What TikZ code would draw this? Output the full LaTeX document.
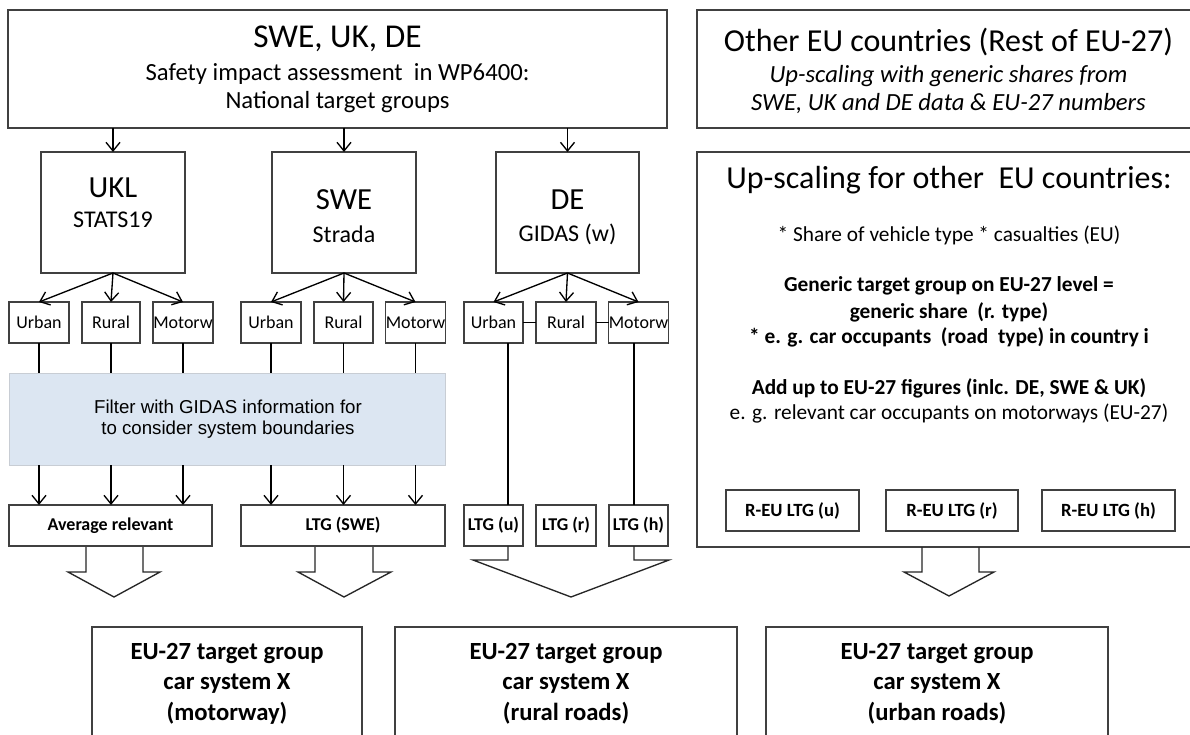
\documentclass[tikz,border=0pt]{standalone}
\usepackage{fontspec}
\setmainfont{Carlito}
\newfontfamily\arialf{Liberation Sans}
\usetikzlibrary{arrows.meta}
\definecolor{bord}{HTML}{404040}
\definecolor{filt}{HTML}{DCE6F2}
\begin{document}
\begin{tikzpicture}[x=0.75pt,y=-0.75pt,
  box/.style={draw=bord, line width=0.8pt, inner sep=0pt, outer sep=0pt},
  rect/.style n args={4}{box, minimum width={(#3-#1)*0.75pt}, minimum height={(#4-#2)*0.75pt},
    at={({(#1+#3)/2},{(#2+#4)/2})}},
  arr/.style={-{Straight Barb[length=6.5pt,width=10.5pt]}, line width=1pt},
  ln/.style={line width=1pt},
  hol/.style={line width=1pt, draw=black!85},
  txt/.style={inner sep=0pt, align=center}]
\clip (0,0) rectangle (1190,735);
\fill[white] (0,0) rectangle (1190,735);

% ---- top boxes
\node[rect={8}{10}{667}{128}] (top) {};
\node[txt, font=\fontsize{25}{30}\selectfont] (t1) at (337.5,39) {SWE, UK, DE};
\node[txt, font=\fontsize{18.5}{22}\selectfont] (t2) at (337.5,74) {Safety impact assessment\ \ in WP6400:};
\node[txt, font=\fontsize{18.5}{22}\selectfont] (t3) at (337.5,102) {National target groups};

\node[rect={697}{10}{1205}{128}] (oth) {};
\node[txt, font=\fontsize{24}{28}\selectfont] (o1) at (948.5,42) {Other EU countries (Rest of EU-27)};
\node[txt, font=\fontsize{18.5}{22}\selectfont\itshape] (o2) at (948.5,76) {Up-scaling with generic shares from};
\node[txt, font=\fontsize{18.5}{22}\selectfont\itshape] (o3) at (948.5,104) {SWE, UK and DE data \& EU-27 numbers};

% ---- right big box
\node[rect={697}{152}{1205}{547}] (up) {};
\node[txt, font=\fontsize{24}{28}\selectfont] (u1t) at (949,180) {Up-scaling for other\ \ EU countries:};
\node[txt, font=\fontsize{16}{19}\selectfont] (u2t) at (949,235) {* Share of vehicle type * casualties (EU)};
\node[txt, font=\fontsize{16}{19}\selectfont\bfseries] (u3t) at (949,286) {Generic target group on EU-27 level =};
\node[txt, font=\fontsize{16}{19}\selectfont\bfseries] (u4t) at (949,312) {generic share\ \ (r. type)};
\node[txt, font=\fontsize{16}{19}\selectfont\bfseries] (u5t) at (949,337) {* e. g. car occupants\ \ (road\ \ type) in country i};
\node[txt, font=\fontsize{16}{19}\selectfont\bfseries] (u6t) at (949,388) {Add up to EU-27 figures (inlc. DE, SWE \& UK)};
\node[txt, font=\fontsize{16}{19}\selectfont] (u7t) at (949,414) {e. g. relevant car occupants on motorways (EU-27)};

\tikzset{rb/.style={font=\fontsize{14}{17}\selectfont\bfseries}}
\node[rect={726}{490}{859}{531}, rb] (reu) {R-EU LTG (u)};
\node[rect={886}{490}{1018}{531}, rb] (rer) {R-EU LTG (r)};
\node[rect={1042}{490}{1175}{531}, rb] (reh) {R-EU LTG (h)};

% ---- national boxes
\node[rect={41}{152}{185}{273}] (ukl) {};
\node[txt, font=\fontsize{23}{27}\selectfont] (ukl1) at (113,188) {UKL};
\node[txt, font=\fontsize{18}{22}\selectfont] (ukl2) at (113,220) {STATS19};
\node[rect={272}{152}{416}{273}] (swe) {};
\node[txt, font=\fontsize{23}{27}\selectfont] (swe1) at (344,200) {SWE};
\node[txt, font=\fontsize{18}{22}\selectfont] (swe2) at (344,234) {Strada};
\node[rect={496}{152}{639}{273}] (de) {};
\node[txt, font=\fontsize{23}{27}\selectfont] (de1) at (567.5,200) {DE};
\node[txt, font=\fontsize{18}{22}\selectfont] (de2) at (567.5,234) {GIDAS (w)};

\draw[arr] (top.south -| ukl.north) -- (ukl.north);
\draw[arr] (top.south -| swe.north) -- (swe.north);
\draw[arr] (top.south -| de.north) -- (de.north);

% ---- road type boxes
\tikzset{sb/.style={font=\fontsize{13.5}{16}\selectfont}}
\node[rect={9}{302}{69}{343}, sb] (ku) {Urban};
\node[rect={82}{302}{140}{343}, sb] (kr) {Rural};
\node[rect={153}{302}{213}{343}, sb] (km) {Motorw};
\node[rect={241}{302}{301}{343}, sb] (su) {Urban};
\node[rect={314}{302}{373}{343}, sb] (sr) {Rural};
\node[rect={386}{302}{445}{343}, sb] (sm) {Motorw};
\node[rect={464}{302}{523}{343}, sb] (du) {Urban};
\node[rect={536}{302}{596}{343}, sb] (dr) {Rural};
\node[rect={609}{302}{668}{343}, sb] (dm) {Motorw};

\foreach \s/\t in {ukl/ku, ukl/kr, ukl/km, swe/su, swe/sr, swe/sm, de/du, de/dr, de/dm}
  \draw[arr] (\s.south) -- (\t.north);
\draw[ln] (du.east) -- (dr.west);
\draw[ln] (dr.east) -- (dm.west);

% ---- filter box
\node[rect={9}{373}{445}{465}, fill=filt, draw=filt!80!black!70, line width=0.4pt] (filter) {};
\node[txt, font=\arialf\fontsize{14}{17}\selectfont] (f1) at (228,407) {Filter with GIDAS information for};
\node[txt, font=\arialf\fontsize{14}{17}\selectfont] (f2) at (228,430) {to consider system boundaries};

% ---- LTG row
\tikzset{lb/.style={font=\fontsize{13.5}{16}\selectfont\bfseries}}
\node[rect={9}{505}{212}{546}, lb] (avg) {Average relevant};
\node[rect={241}{505}{445}{546}, lb] (ltgs) {LTG (SWE)};
\node[rect={464}{505}{523}{546}, lb] (lu) {LTG (u)};
\node[rect={536}{505}{596}{546}, lb] (lr) {LTG (r)};
\node[rect={609}{505}{668}{546}, lb] (lh) {LTG (h)};

\foreach \b/\o in {ku/avg, kr/avg, km/avg, su/ltgs, sr/ltgs, sm/ltgs}{
  \draw[ln] (\b.south) -- (\b.south |- filter.north);
  \draw[arr] (\b.south |- filter.south) -- (\b.south |- \o.north);
}
\coordinate (dux) at (508,0);
\coordinate (dmx) at (634,0);
\draw[ln] (du.south -| dux) -- (lu.north -| dux);
\draw[ln] (dm.south -| dmx) -- (lh.north -| dmx);

% ---- hollow block arrows
\draw[hol] (86,547) -- (86,572) -- (68,572) -- (114,597) -- (160,572) -- (143,572) -- (143,547);
\draw[hol] (315,547) -- (315,572) -- (298,572) -- (344,597) -- (391,572) -- (373,572) -- (373,547);
\draw[hol] (lu.south -| dux) -- (508,560) -- (473,560) -- (571,597) -- (669,560) -- (634,560) -- (lh.south -| dmx);
\draw[hol] (922,547) -- (922,572) -- (904,572) -- (949,596) -- (994,572) -- (979,572) -- (979,547);

% ---- bottom boxes
\node[rect={92}{627}{362}{745}] (b1) {};
\node[rect={395}{627}{737}{745}] (b2) {};
\node[rect={766}{627}{1108}{745}] (b3) {};
\tikzset{bt/.style={txt, font=\fontsize{18.5}{22}\selectfont\bfseries}}
\node[bt] (b1a) at (227,653) {EU-27 target group};
\node[bt] (b1b) at (227,683) {car system X};
\node[bt] (b1c) at (227,713) {(motorway)};
\node[bt] (b2a) at (566,653) {EU-27 target group};
\node[bt] (b2b) at (566,683) {car system X};
\node[bt] (b2c) at (566,713) {(rural roads)};
\node[bt] (b3a) at (937,653) {EU-27 target group};
\node[bt] (b3b) at (937,683) {car system X};
\node[bt] (b3c) at (937,713) {(urban roads)};
\end{tikzpicture}
\end{document}
